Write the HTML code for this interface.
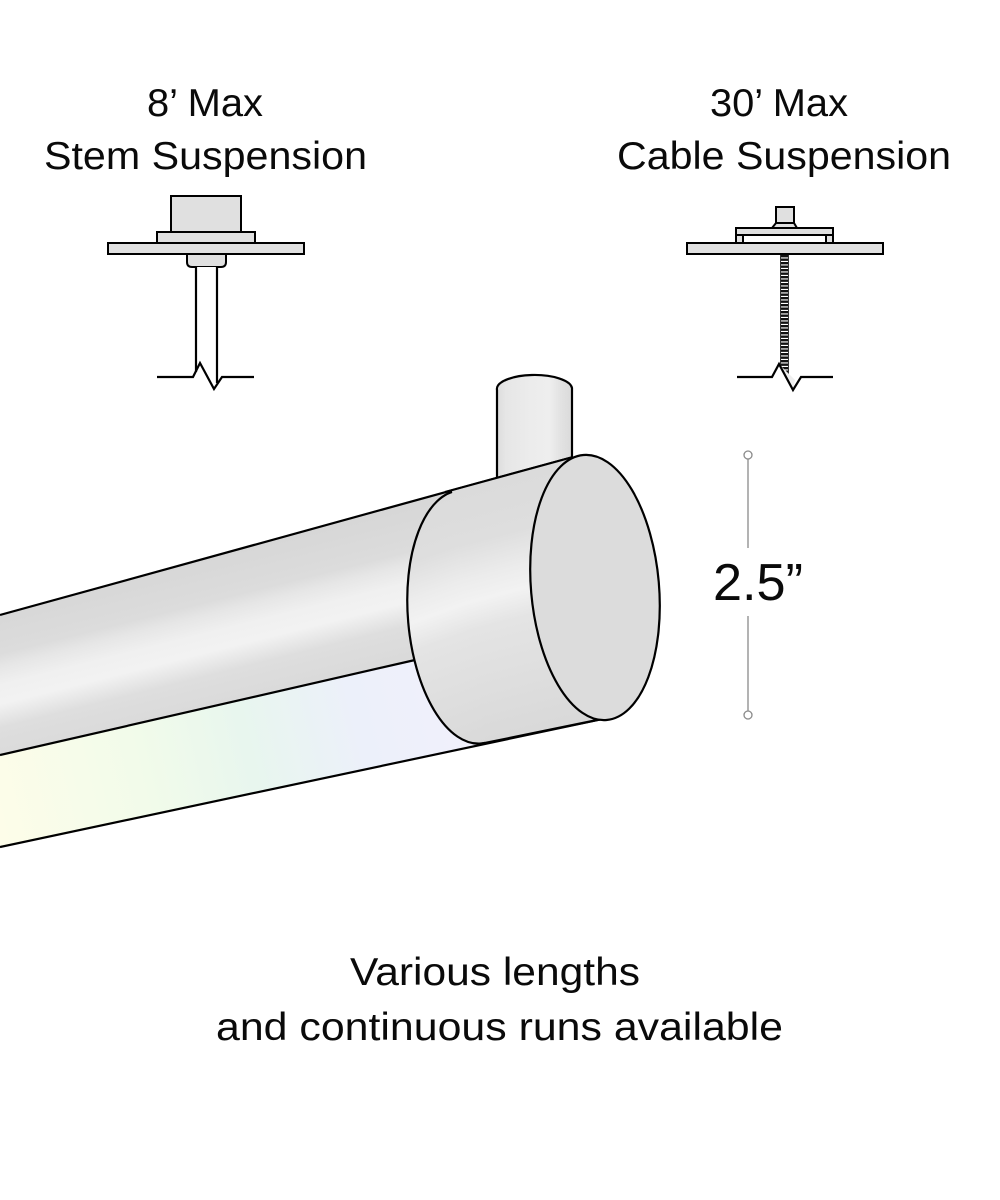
<!DOCTYPE html>
<html>
<head>
<meta charset="utf-8">
<style>
  html, body { margin:0; padding:0; background:#fff; }
  svg { display:block; }
  text { font-family: "Liberation Sans", "DejaVu Sans", sans-serif; fill:#0a0a0a; }
</style>
</head>
<body>
<svg width="1000" height="1200" viewBox="0 0 1000 1200" xmlns="http://www.w3.org/2000/svg">
  <defs>
    <linearGradient id="band" gradientUnits="userSpaceOnUse" x1="200" y1="560" x2="237" y2="708">
      <stop offset="0" stop-color="#d7d7d7"/>
      <stop offset="0.28" stop-color="#dcdcdc"/>
      <stop offset="0.36" stop-color="#e6e6e6"/>
      <stop offset="0.48" stop-color="#f0f0f0"/>
      <stop offset="0.6" stop-color="#f2f2f2"/>
      <stop offset="0.75" stop-color="#dedede"/>
      <stop offset="1" stop-color="#d9d9d9"/>
    </linearGradient>
    <linearGradient id="strip" gradientUnits="userSpaceOnUse" x1="0" y1="820" x2="500" y2="700">
      <stop offset="0" stop-color="#fdfde9"/>
      <stop offset="0.3" stop-color="#f1fbea"/>
      <stop offset="0.5" stop-color="#e8f6ee"/>
      <stop offset="0.72" stop-color="#ecf0fa"/>
      <stop offset="1" stop-color="#f2f0fc"/>
    </linearGradient>
    <linearGradient id="cap" gradientUnits="userSpaceOnUse" x1="440" y1="480" x2="510" y2="745">
      <stop offset="0" stop-color="#dadada"/>
      <stop offset="0.25" stop-color="#dedede"/>
      <stop offset="0.38" stop-color="#ececec"/>
      <stop offset="0.46" stop-color="#f2f2f2"/>
      <stop offset="0.56" stop-color="#e4e4e4"/>
      <stop offset="1" stop-color="#d8d8d8"/>
    </linearGradient>
    <linearGradient id="stem" x1="0" y1="0" x2="1" y2="0">
      <stop offset="0" stop-color="#dcdcdc"/>
      <stop offset="0.12" stop-color="#e6e6e6"/>
      <stop offset="0.45" stop-color="#ececec"/>
      <stop offset="0.7" stop-color="#eeeeee"/>
      <stop offset="0.85" stop-color="#e2e2e2"/>
      <stop offset="1" stop-color="#dadada"/>
    </linearGradient>
  </defs>

  <!-- Titles -->
  <text x="147" y="116" font-size="39" textLength="116" lengthAdjust="spacingAndGlyphs">8’ Max</text>
  <text x="44" y="169" font-size="39" textLength="323" lengthAdjust="spacingAndGlyphs">Stem Suspension</text>
  <text x="710" y="116" font-size="39" textLength="138" lengthAdjust="spacingAndGlyphs">30’ Max</text>
  <text x="617" y="169" font-size="39" textLength="334" lengthAdjust="spacingAndGlyphs">Cable Suspension</text>

  <!-- Stem mount -->
  <g stroke="#000" stroke-width="2" fill="#e0e0e0">
    <rect x="171" y="196" width="70" height="36"/>
    <rect x="157" y="232" width="98" height="11"/>
    <rect x="108" y="243" width="196" height="11"/>
    <path d="M187,254 L226,254 L226,262 Q226,267 221,267 L192,267 Q187,267 187,262 Z"/>
  </g>
  <path d="M196,267 L196,371 L200,363 L214,389 L217,382 L217,267 Z" fill="#fff" stroke="none"/>
  <g stroke="#000" stroke-width="2.2" fill="none">
    <line x1="196" y1="267" x2="196" y2="372"/>
    <line x1="217" y1="267" x2="217" y2="383"/>
    <polyline points="157,377 193,377 200,363 214,389 222,377 254,377"/>
  </g>

  <!-- Cable mount -->
  <g stroke="#000" stroke-width="2" fill="#e0e0e0">
    <rect x="776" y="207" width="18" height="16"/>
    <path d="M776,223 L794,223 L797,228 L772,228 Z"/>
    <rect x="736" y="228" width="97" height="7"/>
    <rect x="736" y="235" width="7" height="8"/>
    <rect x="826" y="235" width="7" height="8"/>
    <rect x="687" y="243" width="196" height="11"/>
  </g>
  <line x1="784.5" y1="255" x2="784.5" y2="386" stroke="#111" stroke-width="8" stroke-dasharray="2.4 1.1"/>
  <line x1="780.5" y1="255" x2="780.5" y2="380" stroke="#333" stroke-width="1"/>
  <line x1="788.5" y1="255" x2="788.5" y2="386" stroke="#333" stroke-width="1"/>
  <path d="M779,364 L793,390 L801,377 L833,377 L833,395 L737,395 L737,377 L772,377 Z" fill="#fff" stroke="none"/>
  <path d="M779,364 L786,378 L790,386 L793,390 L795,380 Z" fill="#eee" stroke="none"/>
  <polyline points="737,377 772,377 779,364 793,390 801,377 833,377" fill="none" stroke="#000" stroke-width="2.2"/>

  <!-- Stem cylinder on fixture -->
  <path d="M497,390 A37.5,14 0 0 1 572,388 L572,457 L497,478 Z" fill="url(#stem)" stroke="none"/>
  <path d="M497,478 L497,390 A37.5,14 0 0 1 572,388 L572,457" fill="none" stroke="#000" stroke-width="2.2"/>

  <!-- Tube -->
  <polygon points="0,615 573,457 607,718 0,847" fill="url(#strip)"/>
  <polygon points="0,615 573,457 500,600 415,660 0,755" fill="url(#band)"/>
  <g stroke="#000" stroke-width="2.2" fill="none">
    <line x1="0" y1="615" x2="573" y2="457"/>
    <line x1="0" y1="755" x2="415" y2="660"/>
    <line x1="0" y1="847" x2="607" y2="718"/>
  </g>

  <!-- Cap -->
  <ellipse cx="470" cy="617" rx="62" ry="127" transform="rotate(-5 470 617)" fill="url(#cap)" stroke="#000" stroke-width="2.2"/>
  <polygon points="452,491 573,457 607,718 485,743" fill="url(#cap)"/>
  <g stroke="#000" stroke-width="2.2" fill="none">
    <line x1="445" y1="492" x2="573" y2="457"/>
    <line x1="480" y1="744" x2="607" y2="718"/>
  </g>
  <ellipse cx="595" cy="587.5" rx="64" ry="133" transform="rotate(-5 595 587.5)" fill="#dcdcdc" stroke="#000" stroke-width="2.2"/>

  <!-- Dimension -->
  <g stroke="#8a8a8a" stroke-width="1.3" fill="#fff">
    <line x1="748" y1="459" x2="748" y2="548"/>
    <line x1="748" y1="616" x2="748" y2="711"/>
    <circle cx="748" cy="455" r="4"/>
    <circle cx="748" cy="715" r="4"/>
  </g>
  <text x="713" y="600" font-size="52" textLength="90" lengthAdjust="spacingAndGlyphs">2.5”</text>

  <!-- Bottom caption -->
  <text x="350" y="985" font-size="39" textLength="290" lengthAdjust="spacingAndGlyphs">Various lengths</text>
  <text x="216" y="1040" font-size="39" textLength="567" lengthAdjust="spacingAndGlyphs">and continuous runs available</text>
</svg>
</body>
</html>
